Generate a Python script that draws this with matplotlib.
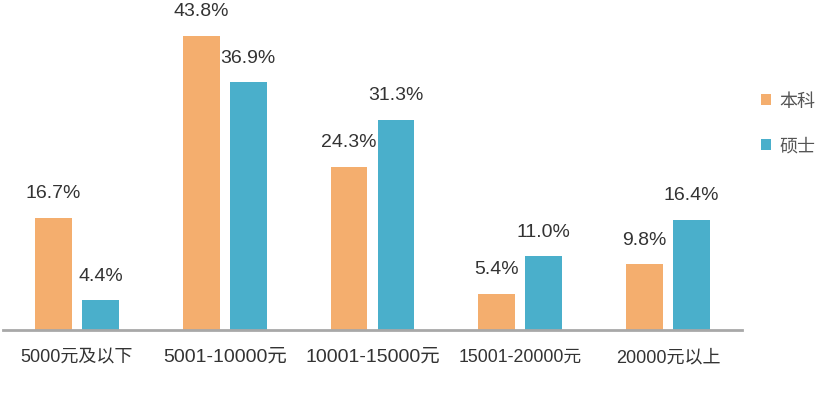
import numpy as np
import matplotlib.pyplot as plt

plt.rcParams['font.family'] = ['Liberation Sans', 'Noto Sans CJK SC', 'DejaVu Sans']

# salary bands and shares (%)
categories = ['5000元及以下', '5001-10000元', '10001-15000元', '15001-20000元', '20000元以上']
bachelor = [16.7, 43.8, 24.3, 5.4, 9.8]
master = [4.4, 36.9, 31.3, 11.0, 16.4]
series_names = ['本科', '硕士']
label_sizes = [13.0, 14.0, 14.0, 12.8, 13.0]

c_orange = '#F4AE6E'
c_blue = '#4AAFCB'
c_text = '#333333'

fig = plt.figure(figsize=(8.27, 4.06), dpi=100)
ax = fig.add_axes([3 / 827, 75 / 406, 739 / 827, 331 / 406])

x = np.arange(len(categories))
w = 0.25
off = 0.159
b1 = ax.bar(x - off, bachelor, w, color=c_orange, label=series_names[0])
b2 = ax.bar(x + off, master, w, color=c_blue, label=series_names[1])

for bars, vals in ((b1, bachelor), (b2, master)):
    for r, v in zip(bars, vals):
        ax.annotate('%.1f%%' % v, (r.get_x() + r.get_width() / 2, v),
                    xytext=(0, 18), textcoords='offset points',
                    ha='center', va='center', fontsize=14, color=c_text)

ax.set_xlim(-0.5, 4.5)
ax.set_ylim(0, 49.3)
ax.set_xticks(x)
ax.set_xticklabels(categories)
for lab, s in zip(ax.get_xticklabels(), label_sizes):
    lab.set_fontsize(s)
    lab.set_color(c_text)
ax.tick_params(axis='x', length=0, pad=13)
ax.set_yticks([])
for s in ['top', 'right', 'left']:
    ax.spines[s].set_visible(False)
ax.spines['bottom'].set_color('#A8A8A8')
ax.spines['bottom'].set_linewidth(2)

# legend on the right, centred between the two entries (~y=125 px from top)
leg = ax.legend(loc='center left', bbox_to_anchor=(752 / 827, (406 - 125) / 406),
                bbox_transform=fig.transFigure, frameon=False,
                fontsize=13, handlelength=0.55, handleheight=0.55,
                handletextpad=0.45, labelspacing=1.55, borderpad=0)
for t in leg.get_texts():
    t.set_color('#555555')

fig.savefig('out.png', dpi=100)
